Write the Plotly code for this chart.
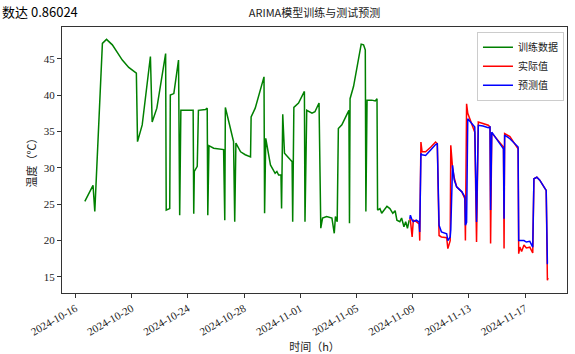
import plotly.graph_objects as go

# 训练集（小时级温度，关键时刻）
train_time = [
    "2024-10-16 16:00", "2024-10-17 02:00", "2024-10-17 06:00", "2024-10-17 09:00",
    "2024-10-17 22:00", "2024-10-18 05:00", "2024-10-18 15:00", "2024-10-19 08:00",
    "2024-10-19 19:00", "2024-10-20 08:00", "2024-10-20 10:00", "2024-10-20 18:00",
    "2024-10-21 08:00", "2024-10-21 11:00", "2024-10-21 19:00", "2024-10-22 10:00",
    "2024-10-22 11:00", "2024-10-22 17:00", "2024-10-22 18:00", "2024-10-23 00:00",
    "2024-10-23 08:00", "2024-10-23 10:00", "2024-10-23 12:00", "2024-10-24 07:00",
    "2024-10-24 09:00", "2024-10-24 10:00", "2024-10-24 11:00", "2024-10-24 16:00",
    "2024-10-24 18:00", "2024-10-25 06:00", "2024-10-25 09:00", "2024-10-25 10:00",
    "2024-10-25 12:00", "2024-10-25 20:00", "2024-10-26 13:00", "2024-10-26 15:00",
    "2024-10-26 16:00", "2024-10-26 22:00", "2024-10-27 06:00", "2024-10-27 08:00",
    "2024-10-27 10:00", "2024-10-27 18:00", "2024-10-28 02:00", "2024-10-28 11:00",
    "2024-10-28 12:00", "2024-10-28 19:00", "2024-10-29 10:00", "2024-10-29 11:00",
    "2024-10-29 13:00", "2024-10-29 21:00", "2024-10-30 05:00", "2024-10-30 08:00",
    "2024-10-30 11:00", "2024-10-30 15:00", "2024-10-30 16:00", "2024-10-30 18:00",
    "2024-10-30 21:00", "2024-10-31 07:00", "2024-10-31 10:00", "2024-10-31 11:00",
    "2024-10-31 13:00", "2024-10-31 21:00", "2024-11-01 07:00", "2024-11-01 08:00",
    "2024-11-01 11:00", "2024-11-01 20:00", "2024-11-02 01:00", "2024-11-02 08:00",
    "2024-11-02 11:00", "2024-11-02 14:00", "2024-11-02 21:00", "2024-11-03 06:00",
    "2024-11-03 10:00", "2024-11-03 12:00", "2024-11-03 15:00", "2024-11-03 17:00",
    "2024-11-03 23:00", "2024-11-04 07:00", "2024-11-04 11:00", "2024-11-04 12:00",
    "2024-11-04 13:00", "2024-11-04 19:00", "2024-11-05 03:00", "2024-11-05 08:00",
    "2024-11-05 12:00", "2024-11-05 15:00", "2024-11-05 16:00", "2024-11-05 18:00",
    "2024-11-06 02:00", "2024-11-06 08:00", "2024-11-06 11:00", "2024-11-06 12:00",
    "2024-11-06 16:00", "2024-11-06 19:00", "2024-11-07 04:00", "2024-11-07 09:00",
    "2024-11-07 14:00", "2024-11-07 18:00", "2024-11-07 21:00", "2024-11-08 02:00",
    "2024-11-08 05:00", "2024-11-08 09:00", "2024-11-08 12:00", "2024-11-08 15:00",
    "2024-11-08 18:00",
]
train_temp = [
    25.4, 27.0, 27.6, 24.0,
    47.1, 47.65, 46.9, 44.8,
    43.8, 43.0, 33.6, 35.9,
    45.3, 36.3, 38.2, 45.7,
    24.2, 24.4, 40.0, 40.2,
    44.8, 23.5, 37.9, 37.9,
    37.9, 23.7, 29.5, 30.2,
    37.9, 38.0, 38.2, 23.5,
    33.05, 32.7, 32.5, 22.8,
    38.3, 36.3, 33.6, 22.6,
    33.4, 32.2, 31.8, 31.5,
    37.0, 38.2, 42.5, 23.75,
    34.05, 30.4, 29.25, 29.5,
    29.0, 29.0, 24.4, 37.35,
    32.0, 31.1, 30.85, 22.6,
    38.3, 38.9, 40.5, 22.6,
    37.9, 37.5, 37.7, 38.9,
    21.7, 23.1, 23.3, 23.1,
    21.0, 23.3, 22.6, 35.4,
    35.9, 37.25, 37.9, 22.4,
    39.5, 41.2, 45.0, 47.0,
    46.9, 46.2, 24.0, 39.3,
    39.3, 39.2, 39.5, 24.2,
    24.4, 23.75, 24.7, 24.4,
    23.75, 24.1, 22.8, 22.6,
    23.1, 21.9, 22.6, 21.7,
    22.8,
]

# 测试集：实际值与 ARIMA 预测值
test_time = [
    "2024-11-08 19:00", "2024-11-08 20:00", "2024-11-08 23:00", "2024-11-09 01:00",
    "2024-11-09 06:00", "2024-11-09 11:00", "2024-11-09 12:00", "2024-11-09 14:00",
    "2024-11-09 16:00", "2024-11-09 22:00", "2024-11-10 07:00", "2024-11-10 15:00",
    "2024-11-10 18:00", "2024-11-10 21:00", "2024-11-11 01:00", "2024-11-11 10:00",
    "2024-11-11 12:00", "2024-11-11 16:00", "2024-11-11 17:00", "2024-11-11 20:00",
    "2024-11-11 23:00", "2024-11-12 03:00", "2024-11-12 12:00", "2024-11-12 17:00",
    "2024-11-12 18:00", "2024-11-12 20:00", "2024-11-12 22:00", "2024-11-13 05:00",
    "2024-11-13 10:00", "2024-11-13 13:00", "2024-11-13 16:00", "2024-11-14 00:00",
    "2024-11-14 09:00", "2024-11-14 12:00", "2024-11-14 13:00", "2024-11-14 15:00",
    "2024-11-14 23:00", "2024-11-15 08:00", "2024-11-15 11:00", "2024-11-15 12:00",
    "2024-11-15 13:00", "2024-11-15 22:00", "2024-11-16 06:00", "2024-11-16 12:00",
    "2024-11-16 13:00", "2024-11-16 15:00", "2024-11-16 18:00", "2024-11-16 22:00",
    "2024-11-17 02:00", "2024-11-17 08:00", "2024-11-17 13:00", "2024-11-17 15:00",
    "2024-11-17 20:00", "2024-11-18 01:00", "2024-11-18 10:00", "2024-11-18 12:00",
    "2024-11-18 14:00", "2024-11-18 15:00",
]
actual_temp = [
    23.0, 22.8, 20.5, 22.8,
    22.6, 22.3, 20.0, 33.55,
    32.2, 32.2, 32.85, 33.55,
    33.3, 20.7, 20.5, 20.4,
    18.9, 20.0, 33.1, 30.0,
    28.6, 27.4, 26.7, 25.75,
    20.0, 38.8, 37.5, 36.0,
    34.9, 19.8, 36.3, 36.1,
    35.85, 35.6, 19.6, 34.8,
    34.0, 33.1, 32.85, 18.9,
    34.7, 34.3, 33.3, 32.6,
    18.2, 19.1, 18.5, 19.4,
    19.0, 19.1, 18.3, 28.5,
    28.7, 28.3, 27.15, 26.9,
    14.55, 14.9,
]
pred_temp = [
    23.0, 23.5, 22.8, 22.6,
    22.8, 22.55, 21.2, 31.95,
    31.8, 31.7, 32.5, 33.2,
    33.3, 22.1, 21.2, 20.95,
    20.0, 20.5, 21.5, 30.35,
    28.3, 27.4, 26.7, 26.0,
    22.1, 22.5, 36.75, 36.1,
    35.6, 22.55, 35.85, 35.75,
    35.5, 35.6, 24.2, 34.9,
    34.0, 33.1, 32.6, 23.0,
    34.5, 34.0, 33.3, 32.85,
    20.0, 20.0, 19.9, 20.0,
    19.8, 19.9, 19.1, 28.5,
    28.7, 28.3, 27.15, 26.9,
    16.85, 16.85,
]

serif = "Liberation Serif, Noto Sans CJK SC, serif"
cjk = "Noto Sans CJK SC, sans-serif"

fig = go.Figure()
fig.add_trace(go.Scatter(x=train_time, y=train_temp, mode="lines", name="训练数据",
                         line=dict(color="green", width=1.5)))
fig.add_trace(go.Scatter(x=test_time, y=actual_temp, mode="lines", name="实际值",
                         line=dict(color="red", width=1.5)))
fig.add_trace(go.Scatter(x=test_time, y=pred_temp, mode="lines", name="预测值",
                         line=dict(color="blue", width=1.5)))

axis_common = dict(showline=True, linecolor="#333333", linewidth=1, mirror=True,
                   ticks="outside", ticklen=4, tickcolor="#333333", showgrid=False,
                   zeroline=False, tickfont=dict(family=serif, size=11, color="#222222"))

fig.update_layout(
    width=575, height=354,
    margin=dict(l=62, r=8, t=27, b=61),
    paper_bgcolor="white", plot_bgcolor="white",
    title=dict(text="ARIMA模型训练与测试预测", x=0.5, xref="paper", y=0.962, yanchor="middle",
               font=dict(family=cjk, size=11, color="#222222")),
    showlegend=True,
    legend=dict(x=0.994, y=0.982, xanchor="right", yanchor="top",
                bgcolor="rgba(255,255,255,0.8)", bordercolor="#cccccc", borderwidth=1,
                font=dict(family=cjk, size=10, color="#222222"),
                tracegroupgap=0, itemwidth=30),
    xaxis=dict(axis_common, type="date", range=["2024-10-15 01:00", "2024-11-19 23:30"],
               tick0="2024-10-16", dtick=4 * 86400000, tickformat="%Y-%m-%d",
               tickangle=-30, automargin=False,
               title=dict(text="时间（h）", standoff=8,
                          font=dict(family=cjk, size=11, color="#222222"))),
    yaxis=dict(axis_common, range=[12.8, 49.35], tick0=15, dtick=5, automargin=False,
               title=dict(text="温度（℃）", standoff=4,
                          font=dict(family=cjk, size=11, color="#222222"))),
)

# 页面顶部的正文片段
fig.add_annotation(text="数达 0.86024", xref="paper", yref="paper",
                   x=-62 / 505, y=1 + 27 / 266, xanchor="left", yanchor="top",
                   showarrow=False, font=dict(family=cjk, size=13, color="black"))

fig.write_html("out.html")
